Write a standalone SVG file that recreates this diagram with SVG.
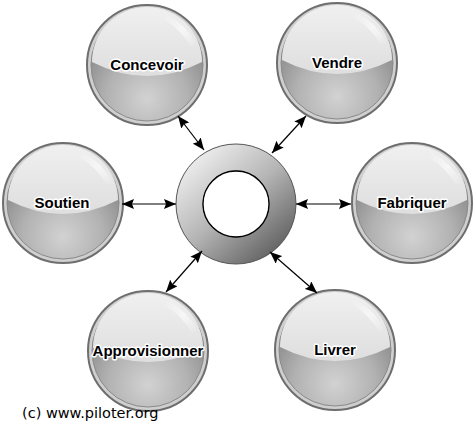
<svg xmlns="http://www.w3.org/2000/svg" width="474" height="436" viewBox="0 0 474 436">
<defs>
<radialGradient id="body" cx="0.5" cy="0.8" r="0.6">
<stop offset="0" stop-color="#d2d2d2"/>
<stop offset="0.6" stop-color="#b2b2b2"/>
<stop offset="1" stop-color="#909090"/>
</radialGradient>
<linearGradient id="gloss" x1="0" y1="0" x2="0" y2="1">
<stop offset="0" stop-color="#f0f0f0"/>
<stop offset="1" stop-color="#dedede"/>
</linearGradient>
<linearGradient id="shine" x1="0" y1="0" x2="1" y2="1">
<stop offset="0" stop-color="#ffffff" stop-opacity="0"/>
<stop offset="0.5" stop-color="#ffffff" stop-opacity="0.6"/>
<stop offset="1" stop-color="#ffffff" stop-opacity="0"/>
</linearGradient>
<linearGradient id="ring" x1="0.15" y1="0.1" x2="0.85" y2="0.9">
<stop offset="0" stop-color="#eeeeee"/>
<stop offset="0.5" stop-color="#b4b4b4"/>
<stop offset="1" stop-color="#626262"/>
</linearGradient>
<marker id="ah" viewBox="0 0 12 10" refX="12" refY="5" markerWidth="12" markerHeight="10" markerUnits="userSpaceOnUse" orient="auto-start-reverse">
<path d="M0,0 L12,5 L0,10 L2,5 Z" fill="#000"/>
</marker>
<g id="sphere">
<circle r="60" fill="#cfcfcf" stroke="#6e6e6e" stroke-width="2"/>
<circle r="56" fill="url(#body)" stroke="#8a8a8a" stroke-width="1"/>
<path d="M-55,-3 A55,55 0 0 1 55,-3 Q0,25 -55,-3 Z" fill="url(#gloss)"/>
<path d="M20,-50 Q40,-40 50,-20 L44,-18 Q34,-36 16,-46 Z" fill="url(#shine)"/>
</g>
<style>
.lbl{font-family:"Liberation Sans",Arial,sans-serif;font-weight:bold;font-size:15px;fill:#000;text-anchor:middle;stroke:#fff;stroke-width:3px;paint-order:stroke;stroke-linejoin:round}
.con{stroke:#000;stroke-width:1.2;fill:none;marker-start:url(#ah);marker-end:url(#ah)}
</style>
</defs>
<g id="center">
<path d="M236,144 A60,60 0 1 1 235.99,144 Z M236,171 A33,33 0 1 0 236.01,171 Z" fill="url(#ring)" fill-rule="evenodd" stroke="#555" stroke-width="1"/>
<circle cx="236" cy="204" r="33" fill="#fff" stroke="#000" stroke-width="1.3"/>
</g>
<g id="concevoir"><use href="#sphere" x="147" y="65"/><text class="lbl" x="147" y="70">Concevoir</text></g>
<g id="vendre"><use href="#sphere" x="337" y="63"/><text class="lbl" x="337" y="68">Vendre</text></g>
<g id="soutien"><use href="#sphere" x="63" y="203"/><text class="lbl" x="62" y="208">Soutien</text></g>
<g id="fabriquer"><use href="#sphere" x="412" y="203"/><text class="lbl" x="412" y="208">Fabriquer</text></g>
<g id="approvisionner"><use href="#sphere" x="148" y="351"/><text class="lbl" x="148" y="356">Approvisionner</text></g>
<g id="livrer"><use href="#sphere" x="335" y="350"/><text class="lbl" x="335" y="355">Livrer</text></g>
<g id="connectors">
<line class="con" x1="178" y1="116" x2="204" y2="150"/>
<line class="con" x1="306" y1="116" x2="272" y2="153"/>
<line class="con" x1="122" y1="204" x2="176" y2="204"/>
<line class="con" x1="296" y1="204" x2="351" y2="204"/>
<line class="con" x1="166" y1="292" x2="202" y2="251"/>
<line class="con" x1="270" y1="252" x2="317" y2="293"/>
</g>
<text x="22" y="418" font-family="DejaVu Sans,Verdana,sans-serif" font-size="14.5" fill="#000">(c) www.piloter.org</text>
</svg>
